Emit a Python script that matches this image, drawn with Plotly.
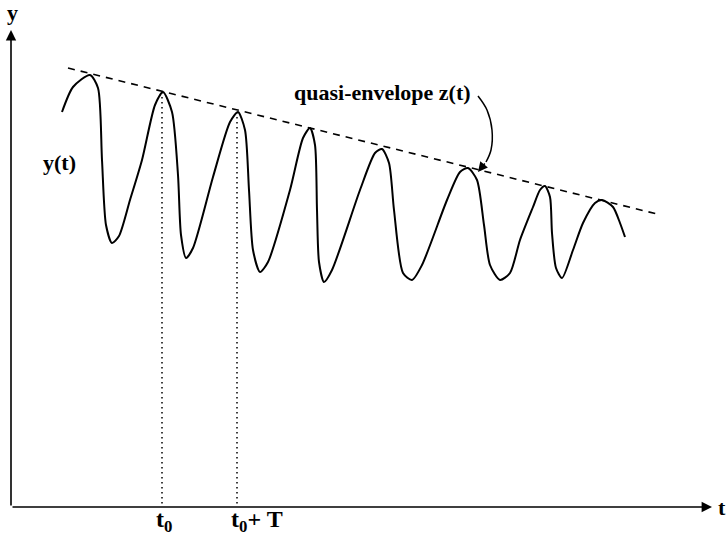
import plotly.graph_objects as go

# --- data (schematic, in the chart's own coordinate frame: t to the right, y axis reversed) ---
curve_t = [62, 73, 90, 98, 102, 106, 112, 119, 130, 142, 155, 163,
           172, 178, 181, 186, 193, 213, 230, 238,
           245, 249, 253, 260, 268, 290, 303, 310,
           315, 317, 319, 324, 332, 360, 375, 382,
           389, 394, 403, 412, 422, 447, 460, 468,
           477, 484, 490, 500, 510, 520, 533, 540, 545,
           550, 552, 556, 562, 573, 583, 595, 602,
           613, 620, 625]
curve_y = [112, 87, 75, 88, 160, 225, 243, 236, 200, 160, 105, 92,
           112, 175, 235, 258, 248, 177, 122, 112,
           130, 190, 250, 272, 262, 190, 138, 128,
           145, 210, 262, 282, 270, 190, 153, 149,
           163, 210, 273, 280, 265, 200, 172, 168,
           180, 225, 265, 280, 273, 240, 207, 190, 186,
           197, 233, 268, 278, 250, 223, 203, 200,
           207, 223, 237]

envelope_t = [68, 657]
envelope_y = [68, 214]

t0 = 162
t0T = 237
t0_peak_y = 92
t0T_peak_y = 112

callout_t = [478, 487, 492, 491, 486]
callout_y = [96, 110, 130, 150, 162]
callout_tip = (478, 172)

axis_origin = (11, 507)
y_axis_top = 30
t_axis_right = 712

W, H = 726, 536
FONT = "Liberation Serif"

fig = go.Figure()

# curve y(t)
fig.add_trace(go.Scatter(x=curve_t, y=curve_y, mode="lines",
                         line=dict(color="black", width=2, shape="spline", smoothing=0.7),
                         hoverinfo="skip"))
# quasi-envelope
fig.add_trace(go.Scatter(x=envelope_t, y=envelope_y, mode="lines",
                         line=dict(color="black", width=1.6, dash="7px,6px"),
                         hoverinfo="skip"))
# dotted verticals
for tt, py in [(t0, t0_peak_y), (t0T, t0T_peak_y)]:
    fig.add_trace(go.Scatter(x=[tt, tt], y=[py, axis_origin[1]], mode="lines",
                             line=dict(color="black", width=1.5, dash="1.5px,3.5px"),
                             hoverinfo="skip"))
# callout curve
fig.add_trace(go.Scatter(x=callout_t, y=callout_y, mode="lines",
                         line=dict(color="black", width=1.5, shape="spline"),
                         hoverinfo="skip"))

anns = []
# axes with arrows
anns.append(dict(x=axis_origin[0], y=y_axis_top, ax=axis_origin[0], ay=axis_origin[1],
                 xref="x", yref="y", axref="x", ayref="y", text="", showarrow=True,
                 arrowhead=2, arrowsize=1.3, arrowwidth=1.6, arrowcolor="black"))
anns.append(dict(x=t_axis_right, y=axis_origin[1], ax=axis_origin[0], ay=axis_origin[1],
                 xref="x", yref="y", axref="x", ayref="y", text="", showarrow=True,
                 arrowhead=2, arrowsize=1.3, arrowwidth=1.6, arrowcolor="black"))
# callout arrowhead
anns.append(dict(x=callout_tip[0], y=callout_tip[1], ax=callout_t[-1], ay=callout_y[-1],
                 xref="x", yref="y", axref="x", ayref="y", text="", showarrow=True,
                 arrowhead=2, arrowsize=1.3, arrowwidth=1.5, arrowcolor="black"))

def label(txt, x, y, size=22, xanchor="center"):
    anns.append(dict(x=x, y=y, xref="x", yref="y", text=txt, showarrow=False,
                     xanchor=xanchor, yanchor="middle",
                     font=dict(family=FONT, size=size, color="black")))

label("<b>y</b>", 12, 12)
label("<b>t</b>", 722, 507)
label("<b>y(t)</b>", 59, 162)
label("<b>quasi-envelope z(t)</b>", 382, 92)
label("<b>t<sub>0</sub></b>", 154, 521, size=24, xanchor="left")
label("<b>t<sub>0</sub>+ T</b>", 229, 521, size=24, xanchor="left")

fig.update_layout(
    width=W, height=H, margin=dict(l=0, r=0, t=0, b=0),
    paper_bgcolor="white", plot_bgcolor="white", showlegend=False,
    annotations=anns,
    xaxis=dict(range=[0, W], visible=False, fixedrange=True),
    yaxis=dict(range=[H, 0], visible=False, fixedrange=True),
)

fig.write_html("out.html")
